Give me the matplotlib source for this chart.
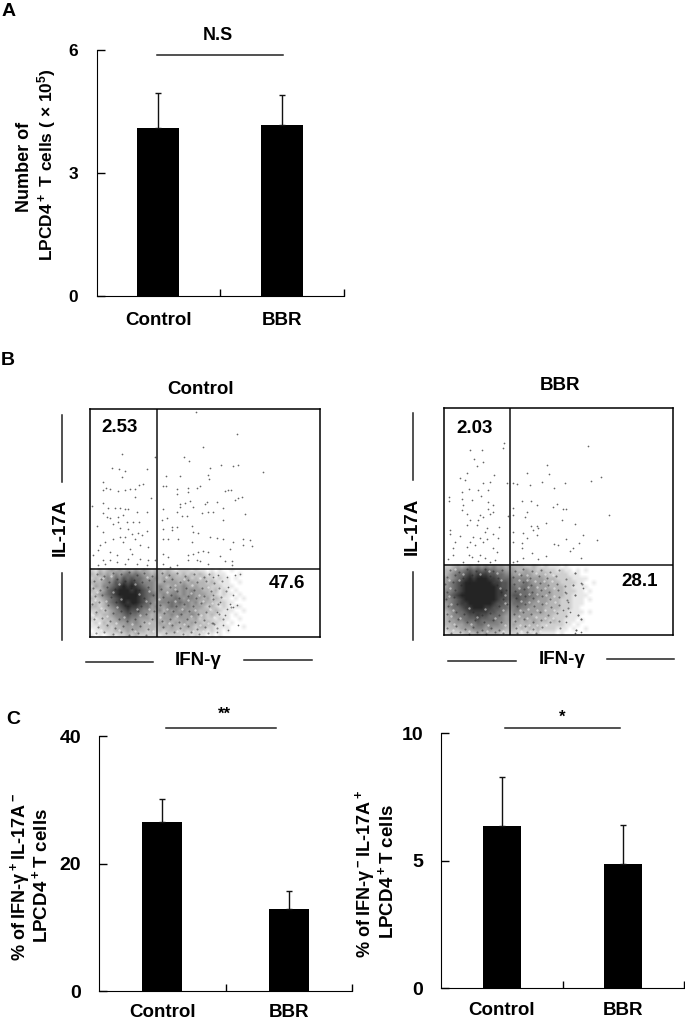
import numpy as np
import matplotlib
matplotlib.use('Agg')
import matplotlib.pyplot as plt
from matplotlib.lines import Line2D

plt.rcParams['font.family'] = ['Liberation Sans', 'DejaVu Sans']
plt.rcParams['font.weight'] = 'bold'
plt.rcParams['mathtext.default'] = 'regular'

W, H = 685, 1021

groups = ['Control', 'BBR']

# panel A
a_means = [4.09, 4.17]
a_tops = [4.95, 4.90]
# panel C
c1_means = [26.5, 12.9]
c1_tops = [30.1, 15.7]
c2_means = [6.35, 4.85]
c2_tops = [8.27, 6.39]

# dots of the flow plots, read in 3x crop pixels of each box
ctrl_x = [408,532,430,187,285,373,388,155,177,260,195,482,520,535,450,608,360,318,185,443,448,130,248,238,225,210,195,175,150,138,128,310,318,350,385,420,410,385,495,505,513,350,225,272,545,535,525,440,435,470,360,375,390,128,95,145,165,180,195,205,230,130,140,150,175,190,260,310,350,360,400,425,445,460,490,555,305,320,365,380,488,175,200,220,237,110,160,180,205,350,335,335,310,395,415,400,260,235,215,130,195,180,160,225,245,310,325,355,450,470,490,550,570,395,520,135,120,190,115,210,240,265,510,548,575,445,430,415,385,400,310,325,150,170,215,100,130,150,170,205,240,265,285,310,350,385,410,420,480,495,515,515,445,115,135,195,230,260,330,
          540,525,500,475,460,505,530,520,500,535,490,470,520,460,495,510,480,505,470,460]
ctrl_y = [50,118,156,176,185,185,198,220,222,221,228,210,212,209,220,232,242,242,247,240,253,260,267,270,282,283,285,287,282,280,285,272,272,282,280,272,278,290,288,286,286,296,305,308,305,308,316,322,328,320,328,325,318,325,332,340,338,340,342,342,350,355,365,370,365,360,352,343,350,335,335,355,352,352,340,358,375,370,362,362,374,380,380,382,382,392,385,397,400,395,395,405,400,392,412,410,408,412,415,410,425,425,430,430,420,432,432,432,425,428,430,432,434,440,440,440,450,440,465,460,450,455,462,450,452,470,466,470,480,475,475,485,470,480,475,478,495,495,500,490,490,495,495,505,510,495,495,497,483,497,497,510,505,510,505,505,505,510,515,
          535,540,545,540,545,575,628,635,640,690,690,650,600,600,660,625,620,705,710,683]
bbr_x = [535,283,278,180,215,192,218,200,413,170,350,417,252,150,575,543,165,240,220,290,310,322,395,467,360,432,155,178,205,235,212,117,118,157,185,335,362,158,155,235,250,235,380,442,430,460,470,350,310,170,210,220,240,250,598,295,310,345,180,205,458,170,200,230,268,363,380,408,495,370,385,120,120,225,210,232,150,190,250,310,340,380,520,350,468,562,135,180,195,218,265,507,432,445,310,335,490,482,130,170,250,262,337,365,410,385,515,178,185,210,225,130,115,340,320,255,205,160,240,310,
         495,515,520,490,495,465,475,505,515,500,515,460,480,470,495]
bbr_y = [153,142,158,165,165,192,200,213,210,232,232,235,240,247,244,256,255,260,262,263,263,266,260,264,270,278,290,280,285,285,302,305,318,310,315,316,316,330,345,320,330,340,328,325,335,340,340,350,338,355,360,365,355,350,360,362,360,365,375,375,374,390,390,400,395,392,392,385,387,405,400,405,418,410,430,432,422,425,418,410,415,420,420,430,433,434,440,440,450,440,428,443,447,450,440,445,458,467,460,455,460,470,460,475,482,492,490,480,487,480,490,480,492,490,498,495,497,500,500,500,
         535,565,580,570,600,590,620,660,672,705,710,645,650,680,715]

# grain of the lower clouds, dark dots and pale gaps, same crop pixels
ctrl_dark = [(112,535),(131,541),(158,532),(184,537),(206,530),(232,538),(251,533),(276,541),(305,532),(327,538),(351,534),(374,541),(402,536),(431,544),(448,535),
             (103,556),(124,552),(148,560),(171,551),(196,558),(221,553),(247,561),(268,555),(312,558),(336,552),(361,560),(385,555),(412,561),(437,556),(463,563),(487,558),
             (98,578),(119,583),(141,574),(166,581),(189,572),(214,579),(238,585),(263,575),(303,582),(329,574),(352,586),(378,577),(401,584),(426,578),(452,586),(478,579),(499,588),
             (106,602),(127,598),(153,606),(176,597),(203,604),(227,599),(251,607),(278,600),(310,604),(334,598),(358,607),(383,601),(407,609),(433,602),(458,610),(484,604),
             (96,626),(118,621),(144,630),(169,620),(194,628),(219,622),(244,631),(270,624),(301,629),(324,621),(349,631),(373,625),(398,632),(423,624),(448,632),(474,626),(512,636),
             (109,650),(134,645),(159,653),(184,646),(209,654),(234,647),(259,655),(282,648),(313,653),(338,646),(363,655),(388,648),(413,656),(438,650),(461,686),(476,655),
             (101,672),(126,668),(151,676),(176,670),(201,678),(226,671),(251,679),(276,672),(306,677),(331,670),(356,679),(381,672),(406,680),(431,674),(456,682),(490,672),
             (115,695),(140,690),(165,698),(190,691),(215,700),(240,693),(265,701),(310,696),(335,690),(360,699),(385,692),(410,701),(435,694),(470,698),
             (108,714),(133,710),(158,717),(183,711),(208,719),(233,712),(258,718),(318,714),(343,710),(368,717),(393,711),(418,716),(443,712)]
ctrl_pale = [(128,548),(152,543),(176,566),(226,567),(262,546),(318,544),(344,568),(372,550),(396,570),(421,548),
             (112,590),(160,590),(236,596),(266,588),(320,590),(346,580),(392,593),(418,598),(444,574),
             (104,614),(138,616),(182,610),(258,616),(296,610),(344,618),(384,614),(430,616),(456,622),
             (122,638),(172,636),(232,640),(266,640),(322,640),(366,640),(406,644),(450,642),
             (100,660),(142,662),(192,664),(240,660),(300,664),(350,662),(394,662),(424,660),(462,664),
             (116,682),(168,684),(216,686),(268,684),(326,684),(372,686),(420,688),(444,684),
             (124,704),(176,704),(226,706),(278,706),(352,706),(400,706),(430,706)]
bbr_dark = [(120,524),(146,530),(172,522),(198,529),(224,521),(250,528),(276,524),(315,527),(340,522),(366,529),(394,524),(420,531),(447,526),
            (110,546),(134,541),(160,549),(187,540),(213,547),(239,542),(264,550),(310,546),(334,540),(360,548),(386,542),(412,550),(440,544),(468,552),(495,535),
            (106,568),(128,562),(152,570),(177,563),(261,569),(312,566),(338,561),(363,569),(389,563),(414,571),(441,566),(466,574),(490,570),(517,567),
            (112,590),(136,584),(272,590),(288,584),(316,588),(342,582),(367,590),(393,584),(418,592),(444,586),(470,594),(497,600),
            (108,612),(131,606),(280,612),(318,608),(344,602),(370,610),(396,604),(421,612),(447,606),(472,616),
            (115,634),(141,628),(268,634),(292,628),(320,632),(346,626),(371,634),(397,628),(423,636),(449,630),(474,638),
            (110,656),(137,650),(163,658),(189,652),(215,660),(241,654),(267,660),(312,656),(338,650),(364,658),(390,652),(416,660),(442,654),(470,664),(505,660),
            (118,678),(144,672),(170,680),(196,674),(222,682),(248,676),(274,682),(316,678),(342,672),(368,680),(394,674),(420,682),(447,678),(515,672),
            (112,700),(138,694),(164,702),(190,696),(216,704),(242,698),(268,704),(318,700),(344,694),(370,702),(396,696),(450,700),
            (124,714),(150,710),(176,716),(202,712),(228,716),(254,711),(280,715),(322,714),(350,712),(378,715),(500,705)]
bbr_pale = [(134,522),(160,536),(210,536),(238,528),(262,534),(326,536),(352,540),(378,534),(404,538),(430,540),
            (118,556),(146,556),(274,556),(328,554),(350,556),(376,558),(402,558),(428,558),
            (120,578),(270,578),(326,578),(354,576),(380,576),(406,580),(432,578),
            (118,604),(284,600),(330,596),(356,596),(382,598),(408,600),(434,602),
            (122,626),(284,624),(332,618),(358,620),(384,618),(410,624),(436,622),
            (128,644),(176,640),(226,642),(278,644),(330,644),(354,642),(380,644),(406,644),(432,644),
            (124,664),(150,668),(202,666),(254,668),(326,664),(352,668),(378,666),(404,668),(430,668),
            (132,688),(184,688),(234,690),(284,690),(330,690),(356,690),(382,690),(410,690),
            (128,706),(178,708),(230,708),(280,708),(332,708),(360,708),(390,708)]

# density of the crowded lower cloud, 0-9, one digit per cell, top row first
ctrl_cloud = [
    "2132343434343432332321222121101010010000",
    "3243435456565443433433232323212111000100",
    "2324546576766544534343334232322121101000",
    "3334557687876555434444343433323211100100",
    "2435567898987655454344454343332221110000",
    "3234678999898765454445454544332312101000",
    "2345678999998766545455454544433212110100",
    "3234567899998765545556545544342321101010",
    "2323567898998765455565655453433222110000",
    "3323456789887664544565545444323212101100",
    "2232345678776554453545454443332321110010",
    "1323345567665543434454544543323211101000",
    "2122334556554443434443444342322121100100",
    "1213233445454333343434343433232211010000",
    "1122323344444333334343334323322111100010",
    "0112223334343323232333232322212110100000",
    "1010121223232222212222212121101010000000",
]
bbr_cloud = [
    "2234345454545443433322321211101000000000",
    "3345567676766554443343323222121101010000",
    "3456678788877665544444333322222111000000",
    "4456789899988766655554444333222211110000",
    "4567899999998877655565444433322221100100",
    "4567899999999877665665544433332211110000",
    "5567899999999887666665544443332221101000",
    "5678999999999887677666554443332211110000",
    "5567899999999877667665544433322211101000",
    "4567889999998776566655444433322211100000",
    "4566788999887766556554444333322211000000",
    "3456678888877665455444444333222111101000",
    "3455667787766654444444333332222111000000",
    "3445566676666554434343433323221110100000",
    "3344455566555544343333332222221101000000",
    "2333444555454443332323232222111010010000",
    "1222233343433322222122121111010000000000",
]


def add_ax(x0, y0, x1, y1):
    return plt.gcf().add_axes([x0 / W, 1 - y1 / H, (x1 - x0) / W, (y1 - y0) / H])


def put(x, y, s, size=11, **kw):
    plt.gcf().text(x / W, 1 - y / H, s, fontsize=size, fontweight='bold',
                   ha=kw.pop('ha', 'center'), va=kw.pop('va', 'center'), **kw)


def seg(x0, y0, x1, y1, color='#222222'):
    plt.gcf().add_artist(Line2D([x0 / W, x1 / W], [1 - y0 / H, 1 - y1 / H], color=color, lw=1.1))


def bar_panel(box, means, tops, ymax, yticks, width, size, xpad):
    ax = add_ax(*box)
    xs = np.arange(len(groups))
    errs = [np.zeros(2), np.array(tops) - np.array(means)]
    ax.bar(xs, means, width=width, color='black')
    ax.errorbar(xs, means, yerr=errs, fmt='none', ecolor='#111111', elinewidth=1, capsize=2.5, capthick=1)
    ax.set_xlim(-0.5, 1.5)
    ax.set_ylim(0, ymax)
    ax.set_yticks(yticks)
    ax.set_xticks(xs)
    ax.set_xticklabels(groups, fontsize=13.5)
    ax.set_xticks([0.5, 1.5], minor=True)
    ax.tick_params(axis='x', which='major', length=0, pad=xpad)
    ax.tick_params(axis='x', which='minor', direction='in', length=5, width=1)
    ax.tick_params(axis='y', direction='in', length=6, width=1, labelsize=size, pad=13)
    ax.spines['top'].set_visible(False)
    ax.spines['right'].set_visible(False)
    return ax


def flow_panel(box, xs, ys, dark, pale, cloud, vx, hy, xlim, ylim):
    ax = add_ax(*box)
    grid = np.array([[int(c) for c in row] for row in cloud])
    ax.imshow(grid, cmap='gray_r', vmin=0, vmax=10.5, interpolation='bilinear', aspect='auto',
              extent=(xlim[0], xlim[0] + 480, ylim[0], hy))
    ax.scatter(*zip(*pale), s=3, c='white', alpha=0.45, linewidths=0)
    ax.scatter(*zip(*dark), s=2.2, c='#222222', alpha=0.5, linewidths=0)
    ax.scatter(xs, ys, s=1.5, c='#666666', linewidths=0)
    ax.axvline(vx, color='#111111', lw=1.1)
    ax.axhline(hy, color='#111111', lw=1.1)
    ax.set_xlim(*xlim)
    ax.set_ylim(*ylim)
    ax.set_xticks([])
    ax.set_yticks([])
    for sp in ax.spines.values():
        sp.set_linewidth(1.1)
    return ax


fig = plt.figure(figsize=(W / 100, H / 100), dpi=100, facecolor='white')

# A
bar_panel((96.5, 50, 344, 296.5), a_means, a_tops, 6, [0, 3, 6], 0.34, 12.5, 11)
put(9, 11, 'A', 14)
seg(157, 55, 283, 55)
put(218, 35, 'N.S', 13)
put(25, 167, 'Number of', 13, rotation=90)
put(47, 165, 'LPCD4$^+$ T cells ( × 10$^5$)', 12.5, rotation=90)

# B
put(8, 360, 'B', 14)
flow_panel((90, 409, 320, 637), ctrl_x, ctrl_y, ctrl_dark, ctrl_pale, ctrl_cloud, 292, 520, (90, 780), (725, 42))
flow_panel((444.3, 408, 673, 635), bbr_x, bbr_y, bbr_dark, bbr_pale, bbr_cloud, 301, 509, (103, 790), (720, 38))
put(201, 390, groups[0], 13.5)
put(560, 386, groups[1], 13.5)
put(120, 427, '2.53', 13.5)
put(287, 584, '47.6', 13.5)
put(475, 428, '2.03', 13.5)
put(640, 581, '28.1', 13.5)
put(60, 527, 'IL-17A', 13.5, rotation=90)
put(412, 526, 'IL-17A', 13.5, rotation=90)
seg(62, 415, 62, 482)
seg(62, 573, 62, 640)
seg(413, 413, 413, 480)
seg(413, 572, 413, 640)
put(198, 660, 'IFN-γ', 13.5)
put(562, 659, 'IFN-γ', 13.5)
seg(86, 662, 153, 662)
seg(244, 660, 312, 660)
seg(448, 661, 516, 661)
seg(607, 659, 674, 659)

# C
put(13, 719, 'C', 14)
bar_panel((99, 736, 352, 991), c1_means, c1_tops, 40, [0, 20, 40], 0.32, 14, 9)
seg(166, 728, 276, 728)
put(224, 714, '**', 12)
put(20, 877, '% of IFN-γ$^+$IL-17A$^-$', 13, rotation=90)
put(41, 876, 'LPCD4$^+$T cells', 13.5, rotation=90)

bar_panel((441, 733, 684, 988), c2_means, c2_tops, 10, [0, 5, 10], 0.31, 14, 10)
seg(505, 728, 620, 728)
put(562, 717, '*', 12)
put(365, 874, '% of IFN-γ$^-$IL-17A$^+$', 13, rotation=90)
put(387, 872, 'LPCD4$^+$T cells', 13.5, rotation=90)

fig.savefig('out.png', dpi=100)
